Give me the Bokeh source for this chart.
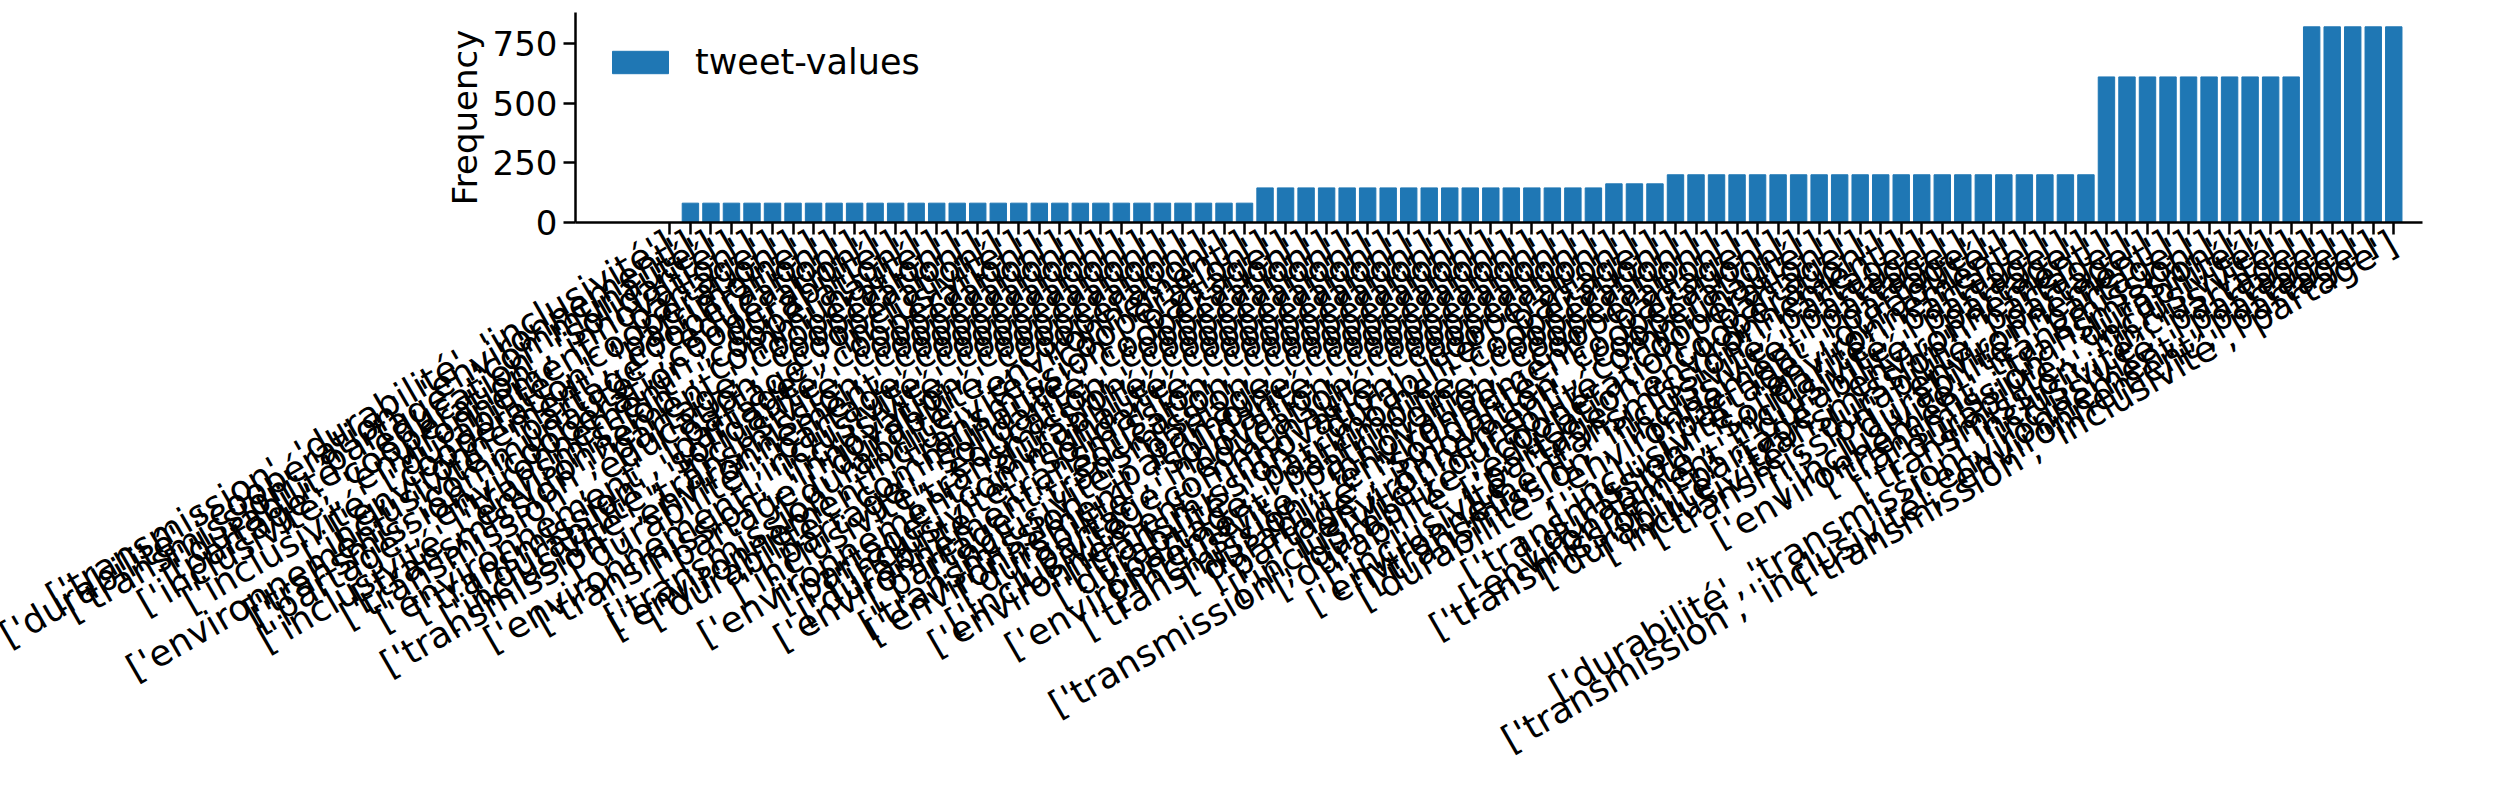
import math

from bokeh.plotting import figure
from bokeh.models import ColumnDataSource, Legend, LegendItem, FixedTicker
from bokeh.embed import file_html
from bokeh.resources import INLINE

labels = [
    "['transmission', 'durabilité', 'inclusivité']",
    "['durabilité', 'coopération', 'environnement']",
    "['transmission', 'partage', 'communauté']",
    "['durabilité', 'éducation', 'solidarité']",
    "['partage', 'coopération', 'innovation']",
    "['inclusivité', 'environnement', 'partage']",
    "['durabilité', 'coopération']",
    "['inclusivité', 'coopération', 'patrimoine']",
    "['environnement', 'coopération']",
    "['inclusivité', 'partage', 'éducation']",
    "['environnement', 'communauté', 'coopération']",
    "['transmission', 'coopération', 'durabilité']",
    "['partage', 'environnement', 'coopération']",
    "['transmission', 'communauté']",
    "['inclusivité', 'environnement', 'coopération']",
    "['transmission', 'partage', 'coopération']",
    "['transmission', 'éducation', 'coopération']",
    "['partage', 'inclusivité']",
    "['environnement', 'partage', 'coopération']",
    "['transmission', 'solidarité', 'coopération']",
    "['durabilité', 'inclusivité', 'coopération']",
    "['inclusivité', 'transmission', 'coopération']",
    "['transmission', 'environnement', 'coopération']",
    "['durabilité', 'partage', 'coopération']",
    "['inclusivité', 'coopération']",
    "['environnement', 'inclusivité', 'coopération']",
    "['transmission', 'innovation', 'coopération']",
    "['partage', 'durabilité', 'coopération']",
    "['durabilité', 'environnement']",
    "['transmission', 'inclusivité', 'coopération']",
    "['environnement', 'transmission', 'partage']",
    "['durabilité', 'communauté', 'coopération']",
    "['partage', 'solidarité', 'coopération']",
    "['inclusivité', 'éducation', 'coopération']",
    "['transmission', 'coopération']",
    "['environnement', 'durabilité', 'coopération']",
    "['partage', 'communauté', 'coopération']",
    "['inclusivité', 'solidarité', 'coopération']",
    "['durabilité', 'transmission', 'coopération']",
    "['environnement', 'éducation', 'coopération']",
    "['partage', 'transmission', 'coopération']",
    "['inclusivité', 'partage', 'coopération']",
    "['transmission', 'patrimoine', 'coopération']",
    "['environnement', 'solidarité', 'coopération']",
    "['durabilité', 'innovation', 'coopération']",
    "['partage', 'éducation', 'coopération']",
    "['inclusivité', 'communauté', 'coopération']",
    "['environnement', 'innovation', 'coopération']",
    "['transmission', 'durabilité', 'partage']",
    "['durabilité', 'patrimoine', 'coopération']",
    "['partage', 'patrimoine', 'coopération']",
    "['environnement', 'patrimoine', 'coopération']",
    "['inclusivité', 'innovation', 'coopération']",
    "['transmission', 'environnement', 'partage']",
    "['durabilité', 'solidarité', 'coopération']",
    "['partage', 'innovation', 'coopération']",
    "['environnement', 'communauté']",
    "['inclusivité', 'durabilité', 'coopération']",
    "['transmission', 'durabilité', 'coopération', 'partage']",
    "['durabilité', 'éducation', 'coopération']",
    "['partage', 'environnement']",
    "['inclusivité', 'transmission', 'partage']",
    "['environnement', 'inclusivité', 'partage']",
    "['transmission', 'inclusivité', 'partage']",
    "['durabilité', 'environnement', 'partage']",
    "['partage', 'durabilité']",
    "['inclusivité', 'environnement']",
    "['transmission', 'solidarité', 'partage']",
    "['durabilité', 'inclusivité', 'partage']",
    "['environnement', 'durabilité', 'partage']",
    "['transmission', 'partage', 'environnement']",
    "['durabilité', 'transmission', 'partage']",
    "['inclusivité', 'durabilité', 'partage']",
    "['transmission', 'environnement']",
    "['durabilité', 'partage']",
    "['inclusivité', 'transmission']",
    "['environnement', 'transmission']",
    "['transmission', 'durabilité']",
    "['durabilité', 'inclusivité']",
    "['transmission', 'inclusivité']",
    "['inclusivité', 'partage']",
    "['durabilité', 'transmission', 'inclusivité', 'partage']",
    "['environnement', 'partage']",
    "['transmission', 'inclusivité', 'environnement', 'partage']",
    "['transmission', 'inclusivité', 'partage']",
]

values = [
    0,
    81, 81, 81, 81, 81, 81, 81, 81, 81, 81, 81, 81, 81, 81,
    81, 81, 81, 81, 81, 81, 81, 81, 81, 81, 81, 81, 81, 81,
    145, 145, 145, 145, 145, 145, 145, 145, 145, 145, 145, 145,
    145, 145, 145, 145, 145,
    162, 162, 162,
    200, 200, 200, 200, 200, 200, 200, 200, 200, 200, 200,
    200, 200, 200, 200, 200, 200, 200, 200, 200, 200,
    610, 610, 610, 610, 610, 610, 610, 610, 610, 610,
    820, 820, 820, 820, 820,
]

y_ticks = [0, 250, 500, 750]

FONT = "DejaVu Sans"

src = ColumnDataSource(data=dict(x=list(range(len(labels))), top=values))

p = figure(
    width=2480, height=780,
    x_range=(-4.6, 85.4), y_range=(0, 880),
    output_backend="svg", toolbar_location=None,
    min_border_left=575, min_border_right=58, min_border_top=12,
    min_border_bottom=10,
)

r = p.vbar(x="x", top="top", width=0.8, source=src, color="#1f77b4")

p.xaxis.ticker = FixedTicker(ticks=list(range(len(labels))))
p.xaxis.major_label_overrides = {i: lab for i, lab in enumerate(labels)}
p.xaxis.major_label_orientation = math.pi / 6
p.xaxis.major_label_text_font_size = "36px"
p.xaxis.minor_tick_line_color = None

p.yaxis.ticker = FixedTicker(ticks=y_ticks)
p.yaxis.axis_label = "Frequency"
p.yaxis.major_label_text_font_size = "34px"
p.yaxis.axis_label_text_font_size = "34px"
p.yaxis.axis_label_text_font_style = "normal"
p.yaxis.minor_tick_line_color = None

for ax in (p.xaxis, p.yaxis):
    ax.major_label_text_font = FONT
    ax.axis_label_text_font = FONT
    ax.major_label_text_color = "black"
    ax.axis_label_text_color = "black"
    ax.axis_line_width = 2.5
    ax.axis_line_color = "black"
    ax.major_tick_line_width = 2.5
    ax.major_tick_line_color = "black"
    ax.major_tick_out = 12
    ax.major_tick_in = 0
    ax.major_label_standoff = 6

p.xgrid.visible = False
p.ygrid.visible = False
p.outline_line_color = None

legend = Legend(items=[LegendItem(label="tweet-values", renderers=[r])],
                location="top_left")
legend.label_text_font = FONT
legend.label_text_font_size = "35px"
legend.label_text_color = "black"
legend.border_line_color = None
legend.background_fill_alpha = 0
legend.glyph_width = 70
legend.glyph_height = 28
legend.label_standoff = 20
legend.margin = 30
p.add_layout(legend)

open("out.html", "w").write(file_html(p, INLINE))
